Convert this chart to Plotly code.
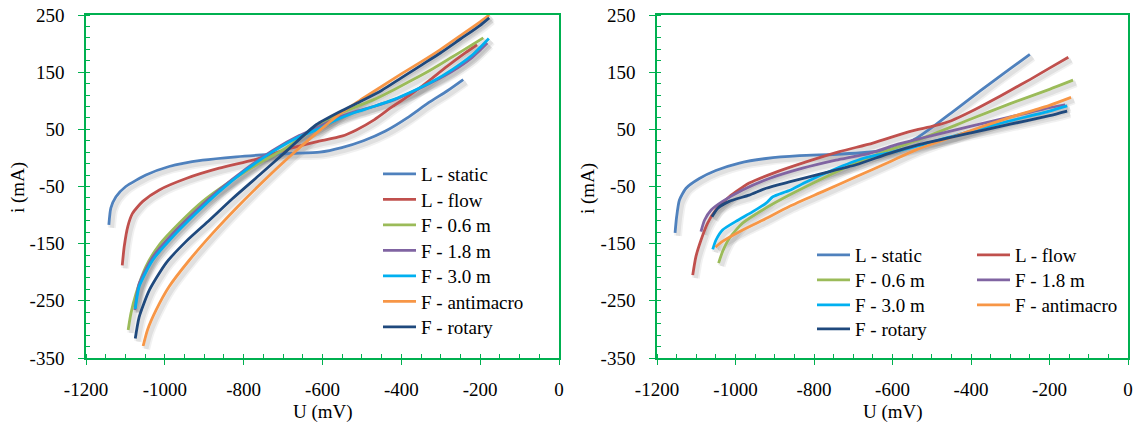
import plotly.graph_objects as go

W, H = 1139, 424

names = ["L - static", "L - flow", "F - 0.6 m", "F - 1.8 m", "F - 3.0 m", "F - antimacro", "F - rotary"]
colors = ["#4F81BD", "#C0504D", "#9BBB59", "#8064A2", "#00B0F0", "#F79646", "#1F497D"]

# axis ticks (labels written with a plain hyphen, as in the original)
X_TICKS = [-1200, -1000, -800, -600, -400, -200, 0]
X_TICKTEXT = ["-1200", "-1000", "-800", "-600", "-400", "-200", "0"]
Y_TICKS = [-350, -250, -150, -50, 50, 150, 250]
Y_TICKTEXT = ["-350", "-250", "-150", "-50", "50", "150", "250"]

# ---------------- left panel data (U in mV, i in mA) ----------------
L_static_U = [-1142, -1137, -1124, -1099, -1048, -989, -904, -819, -735, -680, -607, -551, -496, -440, -385, -330, -284, -243]
L_static_i = [-117, -88, -68, -50, -30, -15, -4, 2, 6, 8, 10, 18, 30, 47, 70, 97, 117, 137]

L_flow_U = [-1108, -1103, -1094, -1082, -1056, -1014, -946, -862, -777, -726, -680, -616, -551, -514, -468, -422, -376, -330, -284, -237, -208]
L_flow_i = [-188, -155, -120, -97, -76, -56, -36, -18, -4, 7, 17, 28, 38, 49, 67, 90, 111, 135, 160, 184, 198]

F06_U = [-1093, -1086, -1073, -1048, -1014, -963, -904, -836, -760, -693, -616, -570, -520, -470, -420, -370, -320, -270, -220, -192]
F06_i = [-301, -272, -237, -190, -152, -114, -76, -42, -9, 17, 55, 73, 88, 102, 119, 137, 156, 177, 198, 210]

F18_U = [-1076, -1066, -1032, -982, -922, -862, -794, -726, -659, -616, -570, -520, -470, -420, -370, -320, -270, -220, -182]
F18_i = [-266, -222, -175, -134, -93, -56, -19, 13, 39, 52, 68, 80, 90, 101, 116, 133, 152, 176, 201]

F30_U = [-1075, -1065, -1031, -980, -921, -862, -794, -726, -659, -616, -570, -520, -470, -420, -370, -320, -270, -220, -178]
F30_i = [-264, -225, -179, -138, -97, -59, -21, 11, 37, 49, 65, 79, 90, 102, 117, 134, 155, 180, 209]

Fanti_U = [-1055, -1044, -1022, -989, -938, -879, -819, -752, -684, -616, -550, -500, -450, -400, -350, -300, -250, -200, -177]
Fanti_i = [-329, -301, -266, -225, -179, -132, -88, -42, 2, 43, 80, 103, 125, 147, 168, 190, 214, 238, 250]

Frot_U = [-1075, -1065, -1039, -997, -946, -887, -828, -760, -693, -616, -550, -500, -450, -400, -350, -300, -250, -200, -177]
Frot_i = [-316, -278, -231, -184, -146, -109, -71, -30, 11, 58, 83, 100, 118, 140, 162, 184, 208, 232, 245]

# ---------------- right panel data ----------------
R_static_U = [-1154, -1150, -1143, -1126, -1092, -1050, -990, -922, -837, -752, -678, -620, -586, -540, -494, -450, -400, -350, -300, -250]
R_static_i = [-131, -103, -74, -53, -36, -22, -9, -1, 4, 6, 9, 13, 19, 34, 56, 79, 105, 131, 156, 181]

R_flow_U = [-1109, -1101, -1088, -1071, -1050, -1016, -965, -905, -820, -735, -650, -557, -494, -450, -400, -350, -300, -250, -200, -152]
R_flow_i = [-205, -173, -144, -114, -91, -68, -44, -27, -7, 11, 26, 46, 56, 65, 81, 99, 118, 137, 157, 176]

R_F06_U = [-1043, -1033, -1016, -982, -931, -863, -778, -693, -608, -540, -400, -300, -200, -140]
R_F06_i = [-184, -164, -141, -114, -91, -65, -36, -9, 14, 30, 68, 95, 120, 136]

R_F18_U = [-1088, -1079, -1062, -1033, -982, -914, -829, -744, -659, -586, -540, -494, -402, -310, -218, -160]
R_F18_i = [-129, -109, -91, -76, -56, -36, -18, -4, 8, 24, 32, 40, 55, 70, 85, 93]

R_F30_U = [-1058, -1050, -1033, -999, -956, -922, -905, -863, -820, -752, -676, -608, -540, -400, -300, -200, -155]
R_F30_i = [-160, -144, -126, -111, -94, -79, -68, -57, -42, -21, -1, 9, 20, 47, 65, 82, 91]

R_Fanti_U = [-1051, -1033, -990, -931, -863, -778, -693, -608, -540, -400, -300, -200, -145]
R_Fanti_i = [-156, -146, -129, -109, -85, -59, -33, -7, 14, 48, 71, 92, 106]

R_Frot_U = [-1060, -1045, -1016, -965, -922, -863, -778, -693, -608, -540, -400, -300, -200, -155]
R_Frot_i = [-103, -88, -76, -65, -53, -42, -27, -12, 8, 22, 44, 59, 74, 82]

left_series = [(L_static_U, L_static_i), (L_flow_U, L_flow_i), (F06_U, F06_i), (F18_U, F18_i),
               (F30_U, F30_i), (Fanti_U, Fanti_i), (Frot_U, Frot_i)]
right_series = [(R_static_U, R_static_i), (R_flow_U, R_flow_i), (R_F06_U, R_F06_i), (R_F18_U, R_F18_i),
                (R_F30_U, R_F30_i), (R_Fanti_U, R_Fanti_i), (R_Frot_U, R_Frot_i)]

GREEN = "#00B050"
FONT = "Liberation Serif, Times New Roman, serif"

# plot-area pixel geometry
L_X0, L_X1 = 86, 559
R_X0, R_X1 = 657, 1128
Y_TOP, Y_BOT = 15, 358
X_RANGE = [-1200, 0]
Y_RANGE = [-350, 250]

# legend rows (pixel centres) and left edges
LEFT_ROWS = [(378, 174 + 25.5 * k) for k in range(7)]
RIGHT_ROWS = [(812, 255), (972, 255), (812, 280), (972, 280), (812, 305), (972, 305), (812, 329)]

fig = go.Figure()

def shadow_offsets(x0, x1):
    dx = 3 * (X_RANGE[1] - X_RANGE[0]) / (x1 - x0)
    dy = 3 * (Y_RANGE[1] - Y_RANGE[0]) / (Y_BOT - Y_TOP)
    return dx, dy

legend_layouts = {}
legend_idx = 0
for panel, series, (xa, ya), (x0, x1), rows in [
    ("left", left_series, ("x", "y"), (L_X0, L_X1), LEFT_ROWS),
    ("right", right_series, ("x2", "y2"), (R_X0, R_X1), RIGHT_ROWS),
]:
    dx, dy = shadow_offsets(x0, x1)
    for (u, i) in series:
        for wdt, alpha in ((8, 0.055), (4.5, 0.07)):
            fig.add_trace(go.Scatter(
                x=[v + dx for v in u], y=[v - dy for v in i], xaxis=xa, yaxis=ya,
                mode="lines", line=dict(color=f"rgba(0,0,0,{alpha})", width=wdt, shape="spline", smoothing=0.6),
                showlegend=False, hoverinfo="skip"))
    for k, (u, i) in enumerate(series):
        legend_idx += 1
        lg = "legend" if legend_idx == 1 else f"legend{legend_idx}"
        lx, ly = rows[k]
        legend_layouts[lg] = dict(x=lx / W, y=1 - ly / H, xanchor="left", yanchor="middle",
                                  font=dict(family=FONT, size=19, color="black"),
                                  bgcolor="rgba(0,0,0,0)", borderwidth=0, itemwidth=33)
        fig.add_trace(go.Scatter(
            x=u, y=i, xaxis=xa, yaxis=ya, name=names[k], legend=lg,
            mode="lines", line=dict(color=colors[k], width=2.8, shape="spline", smoothing=0.6)))

def xax(x0, x1, anchor):
    return dict(domain=[x0 / W, x1 / W], range=X_RANGE, tickmode="array", tickvals=X_TICKS, ticktext=X_TICKTEXT,
                anchor=anchor, showline=True, linecolor=GREEN, linewidth=1.5, mirror=True,
                ticks="outside", ticklen=5, tickwidth=1.2, tickcolor=GREEN,
                minor=dict(ticks="inside", dtick=50, tick0=-1200, ticklen=4, tickwidth=1.2, tickcolor=GREEN, showgrid=False),
                showgrid=False, zeroline=False, automargin=False,
                tickfont=dict(family=FONT, size=19, color="black"), ticklabelstandoff=8)

def yax(anchor):
    return dict(domain=[1 - Y_BOT / H, 1 - Y_TOP / H], range=Y_RANGE, tickmode="array", tickvals=Y_TICKS, ticktext=Y_TICKTEXT,
                anchor=anchor, showline=True, linecolor=GREEN, linewidth=1.5, mirror=True,
                ticks="outside", ticklen=6, tickwidth=1.2, tickcolor=GREEN,
                minor=dict(ticks="inside", dtick=20, tick0=-350, ticklen=4, tickwidth=1.2, tickcolor=GREEN, showgrid=False),
                showgrid=False, zeroline=False, automargin=False,
                tickfont=dict(family=FONT, size=19, color="black"), ticklabelstandoff=10)

title_font = dict(family=FONT, size=19, color="black")
fig.update_layout(
    width=W, height=H, margin=dict(l=0, r=0, t=0, b=0, autoexpand=False),
    paper_bgcolor="white", plot_bgcolor="white",
    xaxis=xax(L_X0, L_X1, "y"),
    yaxis=yax("x"),
    xaxis2=xax(R_X0, R_X1, "y2"),
    yaxis2=yax("x2"),
    showlegend=True,
    annotations=[
        dict(text="U (mV)", x=323 / W, y=1 - 412 / H, xref="paper", yref="paper", showarrow=False,
             font=title_font, xanchor="center", yanchor="middle"),
        dict(text="U (mV)", x=893 / W, y=1 - 412 / H, xref="paper", yref="paper", showarrow=False,
             font=title_font, xanchor="center", yanchor="middle"),
        dict(text="i (mA)", x=18 / W, y=1 - 188 / H, xref="paper", yref="paper", showarrow=False, textangle=-90,
             font=title_font, xanchor="center", yanchor="middle"),
        dict(text="i (mA)", x=588 / W, y=1 - 188 / H, xref="paper", yref="paper", showarrow=False, textangle=-90,
             font=title_font, xanchor="center", yanchor="middle"),
    ],
)
fig.update_layout(**legend_layouts)

fig.write_html("out.html")
